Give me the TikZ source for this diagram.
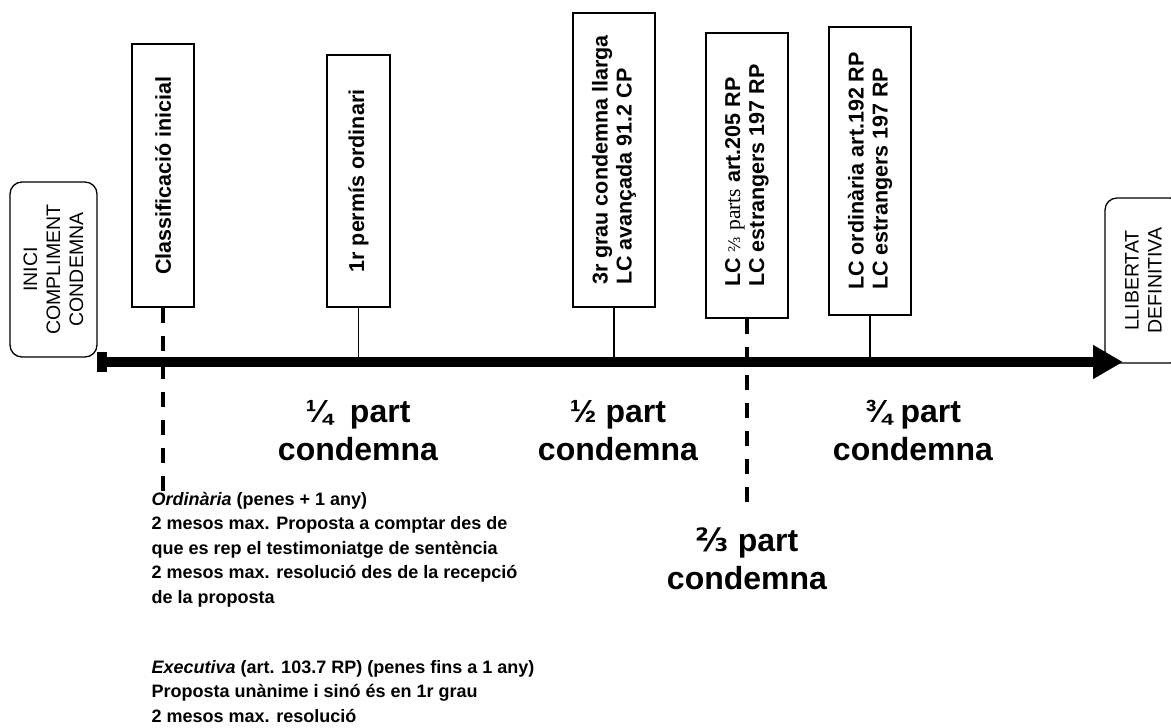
\documentclass[tikz,border=0pt]{standalone}
\usepackage{fontspec}
\setmainfont{Liberation Sans}
\newfontfamily\timesfont{Liberation Serif}
\newfontfamily\fracsans{DejaVu Sans}
\newfontfamily\fracserif{DejaVu Serif}
\usetikzlibrary{arrows.meta}

\tikzset{
  fita/.style={draw, line width=2pt, rotate=90, inner sep=0pt, align=left,
    font=\fontsize{21.5}{24}\selectfont\bfseries},
  extrem/.style={draw, line width=1.3pt, rounded corners=12pt, rotate=90,
    inner sep=0pt, align=center, font=\fontsize{19.5}{23}\selectfont},
  part/.style={align=center, font=\fontsize{32}{38}\selectfont\bfseries},
  nota/.style={anchor=base west, align=left,
    font=\fontsize{18}{24.5}\selectfont\bfseries},
  marca/.style={line width=1.2pt},
  termini/.style={line width=4pt, dash pattern=on 15pt off 13pt},
}

\begin{document}
\begin{tikzpicture}[x=1pt, y=-1pt]
  \useasboundingbox (0, 0) rectangle (1171, 728);
  % extrems de la condemna
  \node[extrem, minimum width=175pt, minimum height=87pt] (inici) at (53.5, 269.5)
    {INICI\\COMPLIMENT\\CONDEMNA};
  \node[extrem, minimum width=165pt, minimum height=77pt] (final) at (1143.5, 280.5)
    {LLIBERTAT\\DEFINITIVA};
  % fites
  \node[fita, minimum width=263pt, minimum height=62pt] (classif) at (163, 175.5)
    {Classificació inicial};
  \node[fita, minimum width=252pt, minimum height=63pt] (permis) at (358.5, 181)
    {1r permís ordinari};
  \node[fita, minimum width=294pt, minimum height=82pt] (tercer) at (614, 160)
    {3r grau condemna llarga\\LC avançada 91.2 CP};
  \node[fita, minimum width=285pt, minimum height=82pt] (dosterc) at (747, 175.5)
    {LC {\fracserif\mdseries\fontsize{16}{16}\selectfont ⅔} {\timesfont\mdseries parts} art.205 RP\\LC estrangers 197 RP};
  \node[fita, minimum width=288pt, minimum height=82pt] (ordin) at (870, 171)
    {LC ordinària art.192 RP\\LC estrangers 197 RP};
  % eix del temps
  \coordinate (origen) at (107, 362);
  \coordinate (fi) at (1123, 362);
  \foreach \f in {permis, tercer, ordin} {
    \draw[marca] (\f.west) -- (\f.west |- origen);
  }
  \coordinate (classif fi) at (163, 495);
  \coordinate (dosterc fi) at (747, 507);
  \draw[termini] (classif.west) -- (classif fi);
  \draw[termini] (dosterc.west) -- (dosterc fi);
  \fill (97, 352) rectangle ++(10, 20);
  \draw[line width=10pt, -{Triangle[length=30pt, width=32pt]}] (origen) -- (fi);
  % parts de la condemna
  \node[part] (quart) at (358, 431) {¼\ \ part\\condemna};
  \node[part] (meitat) at (618, 431) {½ part\\condemna};
  \node[part] (tresq) at (913, 431) {¾ part\\condemna};
  \node[part] (dostq) at (747, 559) {{\fracsans ⅔} part\\condemna};
  % classificacio
  \node[nota] (ordinaria) at (148, 603)
    {\textit{Ordinària} (penes + 1 any)\\2 mesos max. Proposta a comptar des de\\que es rep el testimoniatge de sentència\\2 mesos max. resolució des de la recepció\\de la proposta};
  \node[nota] (executiva) at (148, 722)
    {\textit{Executiva} (art. 103.7 RP) (penes fins a 1 any)\\Proposta unànime i sinó és en 1r grau\\2 mesos max. resolució};
\end{tikzpicture}
\end{document}
